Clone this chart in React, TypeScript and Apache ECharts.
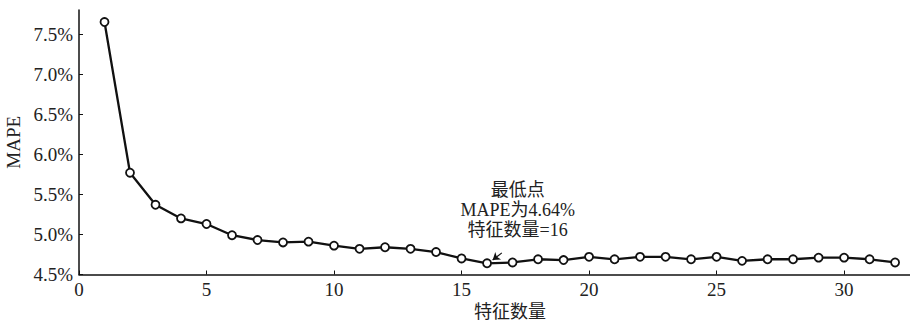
import React, { useEffect, useRef } from "react";
import * as echarts from "echarts";

// Number of selected features and resulting MAPE (%)
const featureCounts: number[] = Array.from({ length: 32 }, (_, i) => i + 1);
const mapeValues: number[] = [
  7.65, 5.77, 5.37, 5.2, 5.13, 4.99, 4.93, 4.9, 4.91, 4.86,
  4.82, 4.84, 4.82, 4.78, 4.7, 4.64, 4.65, 4.69, 4.68, 4.72,
  4.69, 4.72, 4.72, 4.69, 4.72, 4.67, 4.69, 4.69, 4.71, 4.71,
  4.69, 4.65,
];

// Callout for the lowest point
const calloutLines: string[] = ["最低点", "MAPE为4.64%", "特征数量=16"];
const calloutAt: [number, number] = [17.2, 5.3];
const arrowFrom: [number, number] = [16.58, 4.77];
const arrowTo: [number, number] = [16.22, 4.68];

const FONT = "'Liberation Serif', 'Noto Sans CJK SC', serif";
const TEXT = "#222";

export default function App() {
  const ref = useRef<HTMLDivElement>(null);

  useEffect(() => {
    if (!ref.current) return;
    const chart = echarts.init(ref.current, undefined, { renderer: "svg" });
    const points = featureCounts.map((x, i) => [x, mapeValues[i]]);

    chart.setOption({
      animation: false,
      backgroundColor: "#fff",
      grid: {
        left: 79,
        top: 10,
        width: 862,
        bottom: 49.5,
        containLabel: false,
        outerBoundsMode: "none",
      },
      xAxis: {
        type: "value",
        min: 0,
        max: 33.8,
        interval: 5,
        name: "特征数量",
        nameLocation: "middle",
        nameGap: 28,
        nameTextStyle: { fontFamily: FONT, fontSize: 18, color: TEXT },
        axisLine: { lineStyle: { color: "#111", width: 1.5 } },
        axisTick: { inside: true, length: 4, lineStyle: { color: "#111" } },
        axisLabel: {
          fontFamily: FONT,
          fontSize: 19,
          color: TEXT,
          margin: 5,
          showMaxLabel: false,
        },
        splitLine: { show: false },
      },
      yAxis: {
        type: "value",
        min: 4.5,
        max: 7.8,
        interval: 0.5,
        name: "MAPE",
        nameLocation: "middle",
        nameGap: 52,
        nameTextStyle: { fontFamily: FONT, fontSize: 19, color: TEXT },
        axisLine: { show: true, lineStyle: { color: "#111", width: 1.5 } },
        axisTick: { show: true, inside: true, length: 4, lineStyle: { color: "#111" } },
        axisLabel: {
          fontFamily: FONT,
          fontSize: 19,
          color: TEXT,
          margin: 6,
          showMaxLabel: false,
          formatter: (v: number) => `${v.toFixed(1)}%`,
        },
        splitLine: { show: false },
      },
      series: [
        {
          type: "line",
          data: points,
          symbol: "circle",
          symbolSize: 8,
          showAllSymbol: true,
          lineStyle: { color: "#111", width: 2.3 },
          itemStyle: { color: "#fff", borderColor: "#111", borderWidth: 1.8 },
          z: 3,
          markPoint: {
            symbol: "circle",
            symbolSize: 0,
            silent: true,
            data: [
              {
                coord: calloutAt,
                label: {
                  show: true,
                  position: "inside",
                  formatter: calloutLines.join("\n"),
                  fontFamily: FONT,
                  fontSize: 18,
                  lineHeight: 20,
                  color: TEXT,
                  align: "center",
                  verticalAlign: "middle",
                },
              },
            ],
          },
          markLine: {
            silent: true,
            symbol: ["none", "arrow"],
            symbolSize: 7,
            label: { show: false },
            lineStyle: { color: "#111", width: 1.2, type: "solid" },
            data: [[{ coord: arrowFrom }, { coord: arrowTo }]],
          },
        },
      ],
    });

    return () => chart.dispose();
  }, []);

  return (
    <div
      ref={ref}
      style={{ position: "fixed", left: 0, top: 0, width: 910, height: 324, background: "#fff" }}
    />
  );
}
